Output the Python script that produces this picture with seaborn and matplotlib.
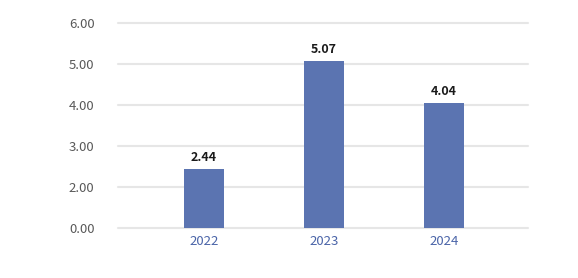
import matplotlib
matplotlib.use("Agg")
import matplotlib.pyplot as plt
import seaborn as sns
import pandas as pd

years = ["2022", "2023", "2024"]
values = [2.44, 5.07, 4.04]
ytick_pos = [1, 2, 3, 4, 5, 6]
ytick_labels = ["0.00", "2.00", "3.00", "4.00", "5.00", "6.00"]

sns.set_style("white")
plt.rcParams['font.family'] = ['Noto Sans CJK SC', 'DejaVu Sans']

df = pd.DataFrame({"year": years, "value": values})

fig = plt.figure(figsize=(5.78, 2.78), dpi=100)
ax = fig.add_axes([118/578, 1-228/278, 410/578, 205/278])
sns.barplot(data=df, x="year", y="value", color="#5b74b1", saturation=1,
            width=0.333, ax=ax, zorder=3, linewidth=0)
ax.set_xlim(-0.717, 2.7)
ax.set_ylim(1, 6)
ax.set_yticks(ytick_pos)
ax.set_yticklabels(ytick_labels, color="#595959", fontsize=9.5)
ax.tick_params(axis='x', colors="#4a64a8", labelsize=9.5, length=0, pad=5)
ax.tick_params(axis='y', length=0, pad=17)
ax.grid(axis='y', color="#e6e6e6", linewidth=1.5, zorder=0)
for gl in ax.get_ygridlines():
    gl.set_clip_on(False)
for s in ax.spines.values():
    s.set_visible(False)
ax.set_xlabel("")
ax.set_ylabel("")
for i, v in enumerate(values):
    ax.text(i, v + 0.12, f"{v:.2f}", ha='center', va='bottom', fontsize=9,
            fontweight='bold', color="#1a1a1a")
for lbl in ax.get_xticklabels():
    lbl.set_color("#4a64a8")
fig.savefig("out.png", dpi=100)
